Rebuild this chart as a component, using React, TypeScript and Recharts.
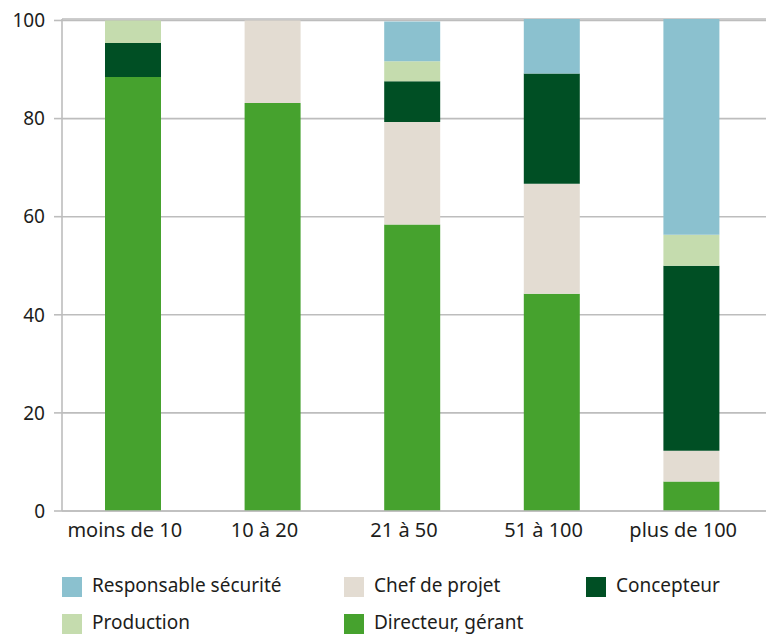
import React from 'react';
import { BarChart, Bar, XAxis, YAxis, CartesianGrid } from 'recharts';

// Company size classes (number of employees)
const categories = ['moins de 10', '10 à 20', '21 à 50', '51 à 100', 'plus de 100'];

// Share (%) of each function, per size class
const directeur = [88.5, 83.2, 58.4, 44.3, 6.0];
const chefDeProjet = [0, 16.8, 20.9, 22.4, 6.3];
const concepteur = [6.9, 0, 8.3, 22.5, 37.7];
const production = [4.6, 0, 4.1, 0, 6.3];
const responsable = [0, 0, 8.1, 11.1, 44.0];

const yTicks = [0, 20, 40, 60, 80, 100];

// Stacking order, bottom to top
const series = [
  { key: 'directeur', name: 'Directeur, gérant', color: '#46a22e', values: directeur },
  { key: 'chef', name: 'Chef de projet', color: '#e3dcd2', values: chefDeProjet },
  { key: 'concepteur', name: 'Concepteur', color: '#004f24', values: concepteur },
  { key: 'production', name: 'Production', color: '#c5dcae', values: production },
  { key: 'responsable', name: 'Responsable sécurité', color: '#8bc1cf', values: responsable },
];

// Legend reading order (row by row)
const legendOrder = ['responsable', 'chef', 'concepteur', 'production', 'directeur'];

const data = categories.map((cat, i) => {
  const row: Record<string, string | number> = { cat };
  series.forEach((s) => {
    row[s.key] = s.values[i];
  });
  return row;
});

const FONT = '"Noto Sans", sans-serif';
const TEXT = '#1d1d1b';
const GRID = '#bdbdbd';

const XTick = (props: any) => {
  const { x, y, payload } = props;
  return (
    <text x={x - 8} y={y} dy="0.71em" textAnchor="middle" fill={TEXT} fontSize={20} fontFamily={FONT}>
      {payload.value}
    </text>
  );
};

export default function App() {
  return (
    <div style={{ position: 'absolute', left: 0, top: 0, width: 771, height: 635, background: '#fff', overflow: 'hidden' }}>
      <BarChart
        width={771}
        height={635}
        data={data}
        margin={{ top: 19, right: 5, left: 0, bottom: 94 }}
        barSize={56}
      >
        <CartesianGrid horizontal vertical={false} stroke={GRID} strokeWidth={1.6} />
        <XAxis
          dataKey="cat"
          height={30}
          padding={{ left: 1, right: 5 }}
          tickLine={false}
          tickSize={0}
          tickMargin={12}
          axisLine={{ stroke: GRID, strokeWidth: 1.6 }}
          tick={<XTick />}
          interval={0}
        />
        <YAxis
          width={62}
          domain={[0, 100.3]}
          allowDataOverflow
          ticks={yTicks}
          tickSize={8}
          tickMargin={9}
          tickLine={{ stroke: GRID, strokeWidth: 1.6 }}
          axisLine={{ stroke: GRID, strokeWidth: 1.6 }}
          tick={{ fill: TEXT, fontSize: 19, fontFamily: FONT }}
        />
        {series.map((s) => (
          <Bar
            key={s.key}
            dataKey={s.key}
            name={s.name}
            stackId="a"
            fill={s.color}
            isAnimationActive={false}
          />
        ))}
      </BarChart>
      <div
        style={{
          position: 'absolute',
          left: 62,
          top: 577,
          display: 'grid',
          gridTemplateColumns: '282px 242px auto',
          gridAutoRows: '37px',
          fontFamily: FONT,
          fontSize: 19,
          color: TEXT,
        }}
      >
        {legendOrder.map((k) => {
          const s = series.find((x) => x.key === k)!;
          return (
            <div key={k} style={{ display: 'flex', alignItems: 'center', height: 20 }}>
              <span style={{ width: 20, height: 20, background: s.color, display: 'inline-block', marginRight: 10, flexShrink: 0 }} />
              <span style={{ lineHeight: '20px', whiteSpace: 'nowrap', position: 'relative', top: -2 }}>{s.name}</span>
            </div>
          );
        })}
      </div>
    </div>
  );
}
